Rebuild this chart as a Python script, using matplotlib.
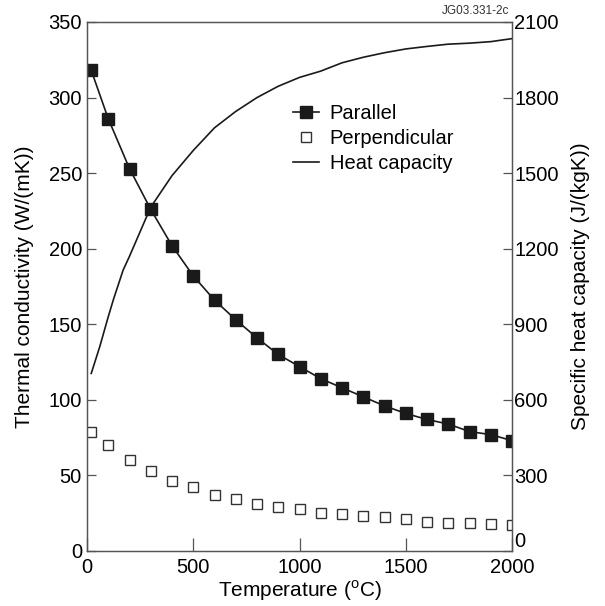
import matplotlib
matplotlib.use("Agg")
import matplotlib.pyplot as plt

plt.rcParams['font.family'] = ['Liberation Sans', 'DejaVu Sans']
plt.rcParams['mathtext.fontset'] = 'custom'
plt.rcParams['mathtext.rm'] = 'Liberation Sans'

# Thermal conductivity (W/(mK))
temp = [20, 100, 200, 300, 400, 500, 600, 700, 800, 900, 1000,
        1100, 1200, 1300, 1400, 1500, 1600, 1700, 1800, 1900, 2000]
parallel = [318, 286, 253, 226, 202, 182, 166, 153, 141, 130, 122,
            114, 108, 102, 96, 91, 87, 84, 79, 77, 73]
perpendicular = [79, 70, 60, 53, 46, 42, 37, 34.5, 31, 29, 28,
                 25, 24.5, 23, 22.5, 21, 19.5, 18.5, 18.5, 18, 17.5]

# Specific heat capacity (J/(kgK))
hc_temp = [20, 60, 100, 125, 170, 200, 300, 400, 500, 600, 700, 800,
           900, 1000, 1100, 1200, 1300, 1400, 1500, 1600, 1700, 1800,
           1900, 2000]
heat_capacity = [705, 811, 930, 1000, 1115, 1170, 1365, 1490, 1590, 1680,
                 1745, 1800, 1845, 1880, 1905, 1938, 1960, 1978, 1993,
                 2003, 2012, 2016, 2022, 2034]

fig = plt.figure(figsize=(6.05, 6.06), dpi=100)
ax = fig.add_axes([0.1438, 0.0908, 0.7025, 0.8729])
ax2 = ax.twinx()

spine_col = '#555555'
fs = 15
tfs = 14.5

p1, = ax.plot(temp, parallel, color='#1a1a1a', lw=1.2, marker='s',
              markersize=8.3, markerfacecolor='#1a1a1a',
              markeredgecolor='#1a1a1a', label='Parallel')
p2, = ax.plot(temp, perpendicular, linestyle='none', marker='s',
              markersize=7.6, markerfacecolor='white',
              markeredgecolor='#333333', markeredgewidth=1.0,
              label='Perpendicular')
p3, = ax2.plot(hc_temp, heat_capacity, color='#1a1a1a', lw=1.2,
               label='Heat capacity')

ax.set_xlim(0, 2000)
ax.set_ylim(0, 350)
ax2.set_ylim(0, 2100)
ax.set_xticks([0, 500, 1000, 1500, 2000])
ax.set_yticks(range(0, 351, 50))
ax2.set_yticks(range(0, 2101, 300))

ax.tick_params(axis='x', direction='in', length=9.5, width=0.9,
               color=spine_col, labelsize=tfs, pad=5)
ax.tick_params(axis='y', direction='in', length=6.5, width=0.9,
               color=spine_col, labelsize=tfs, pad=3.6)
ax2.tick_params(axis='y', direction='in', length=6.5, width=0.9,
                color=spine_col, labelsize=tfs, pad=1.5)
# the right-hand "0" sits just above the corner, as in the original
ax2.get_yticklabels()[0].set_va('bottom')

for a in (ax, ax2):
    for s in a.spines.values():
        s.set_color(spine_col)
        s.set_linewidth(0.9)

ax.set_xlabel('Temperature ($^{\\rm o}$C)', fontsize=fs, labelpad=1)
ax.set_ylabel('Thermal conductivity (W/(mK))', fontsize=fs, labelpad=10.5)
ax2.set_ylabel('Specific heat capacity (J/(kgK))', fontsize=fs,
               labelpad=9)

ax2.legend(handles=[p1, p2, p3], loc='upper left',
           bbox_to_anchor=(0.485, 0.845), frameon=False, fontsize=tfs,
           handlelength=1.27, handletextpad=0.54, labelspacing=0.3,
           borderpad=0, borderaxespad=0)

fig.text(0.842, 0.972, 'JG03.331-2c', fontsize=8.5, ha='right',
         va='bottom', color='#333333')

fig.savefig('out.png', dpi=100)
